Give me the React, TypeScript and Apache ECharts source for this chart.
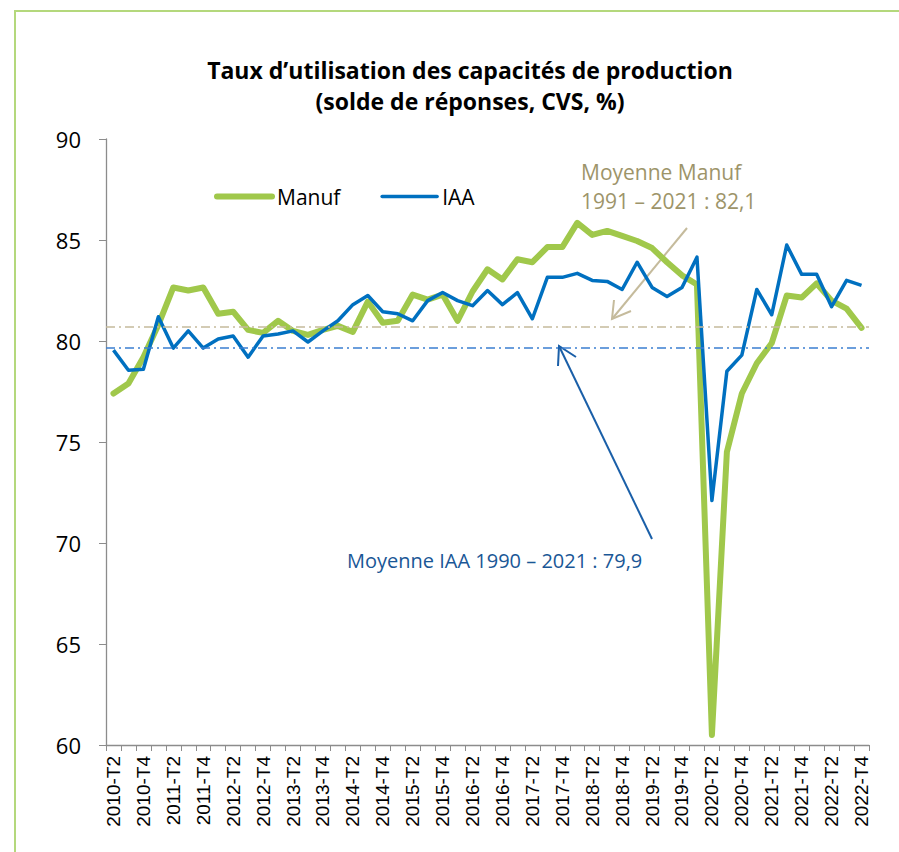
import React, { useEffect, useRef } from "react";
import * as echarts from "echarts";

const categories = [
  "2010-T2","2010-T3","2010-T4",
  "2011-T1","2011-T2","2011-T3","2011-T4",
  "2012-T1","2012-T2","2012-T3","2012-T4",
  "2013-T1","2013-T2","2013-T3","2013-T4",
  "2014-T1","2014-T2","2014-T3","2014-T4",
  "2015-T1","2015-T2","2015-T3","2015-T4",
  "2016-T1","2016-T2","2016-T3","2016-T4",
  "2017-T1","2017-T2","2017-T3","2017-T4",
  "2018-T1","2018-T2","2018-T3","2018-T4",
  "2019-T1","2019-T2","2019-T3","2019-T4",
  "2020-T1","2020-T2","2020-T3","2020-T4",
  "2021-T1","2021-T2","2021-T3","2021-T4",
  "2022-T1","2022-T2","2022-T3","2022-T4",
];

const manuf = [
  77.4, 77.9, 79.2,
  80.8, 82.65, 82.5, 82.65,
  81.35, 81.45, 80.55, 80.4,
  81.0, 80.5, 80.3, 80.55,
  80.75, 80.45, 81.95, 80.9,
  81.0, 82.3, 82.05, 82.3,
  81.0, 82.45, 83.55, 83.05,
  84.05, 83.9, 84.65, 84.65,
  85.85, 85.25, 85.45, 85.2,
  84.95, 84.6, 83.9, 83.25,
  82.8, 60.5, 74.5, 77.4,
  78.9, 79.9, 82.25, 82.15,
  82.85, 82.0, 81.6, 80.65,
];

const iaa = [
  79.55, 78.55, 78.6,
  81.2, 79.65, 80.5, 79.65,
  80.1, 80.25, 79.2, 80.25,
  80.35, 80.5, 79.95, 80.5,
  81.0, 81.8, 82.25, 81.45,
  81.35, 81.0, 82.0, 82.4,
  82.0, 81.75, 82.5, 81.8,
  82.4, 81.1, 83.15, 83.15,
  83.35, 83.0, 82.95, 82.55,
  83.9, 82.65, 82.2, 82.65,
  84.15, 72.1, 78.5, 79.3,
  82.55, 81.3, 84.75, 83.3,
  83.3, 81.7, 83.0, 82.75,
];

// average reference lines (as drawn in the chart)
const avgManufLine = 80.7;
const avgIaaLine = 79.65;

const yTicks = { min: 60, max: 90, interval: 5 };

const GREEN = "#a0c84b";
const BLUE = "#0070c0";
const TAN = "#c5bb9c";
const FONT = "'Open Sans', 'Noto Sans', sans-serif";

export default function App() {
  const ref = useRef<HTMLDivElement>(null);

  useEffect(() => {
    if (!ref.current) return;
    const chart = echarts.init(ref.current, null, { renderer: "svg" });
    chart.setOption({
      animation: false,
      backgroundColor: "#ffffff",
      title: {
        text: "Taux d\u2019utilisation des capacités de production\n(solde de réponses, CVS, %)",
        left: 470,
        top: 54,
        padding: 0,
        textAlign: "center",
        textStyle: {
          fontFamily: FONT,
          fontWeight: "bold",
          fontSize: 23,
          lineHeight: 31,
          color: "#000",
        },
      },
      legend: {
        left: 214,
        top: 186,
        padding: 0,
        itemWidth: 55,
        itemHeight: 14,
        itemGap: 40,
        itemStyle: { opacity: 0 },
        data: [
          { name: "Manuf", lineStyle: { width: 6, cap: "round", color: GREEN } },
          { name: "IAA", lineStyle: { width: 3.5, cap: "round", color: BLUE } },
        ],
        textStyle: { fontFamily: FONT, fontSize: 21, color: "#000" },
      },
      grid: { left: 106, right: 30, top: 139, bottom: 107, containLabel: false },
      xAxis: {
        type: "category",
        data: categories,
        boundaryGap: true,
        axisLine: { show: true, lineStyle: { color: "#8c8c8c", width: 1.3 } },
        axisTick: { show: true, interval: 0, length: 6, lineStyle: { color: "#8c8c8c" } },
        axisLabel: {
          interval: 1,
          rotate: 90,
          margin: 11,
          fontFamily: "'Liberation Sans', Arial, sans-serif",
          fontSize: 19,
          color: "#000",
        },
        splitLine: { show: false },
      },
      yAxis: {
        type: "value",
        min: yTicks.min,
        max: yTicks.max,
        interval: yTicks.interval,
        axisLine: { show: true, lineStyle: { color: "#8c8c8c", width: 1.3 } },
        axisTick: { show: true, length: 7, lineStyle: { color: "#8c8c8c" } },
        axisLabel: { margin: 25, fontFamily: FONT, fontSize: 22, color: "#000" },
        splitLine: { show: false },
      },
      series: [
        {
          name: "Manuf",
          type: "line",
          data: manuf,
          symbol: "none",
          lineStyle: { color: GREEN, width: 6, cap: "round", join: "round" },
          itemStyle: { color: GREEN },
          z: 2,
          markLine: {
            silent: true,
            symbol: "none",
            label: { show: false },
            lineStyle: { color: TAN, width: 1.5, type: [9, 4, 2, 4] },
            data: [{ yAxis: avgManufLine }],
          },
        },
        {
          name: "IAA",
          type: "line",
          data: iaa,
          symbol: "none",
          lineStyle: { color: BLUE, width: 3.5, join: "round" },
          itemStyle: { color: BLUE },
          z: 3,
          markLine: {
            silent: true,
            symbol: "none",
            label: { show: false },
            lineStyle: { color: "#3b7fd1", width: 1.5, type: [9, 4, 2, 4] },
            data: [{ yAxis: avgIaaLine }],
          },
        },
      ],
      graphic: [
        // frame
        { type: "line", shape: { x1: 14, y1: 11, x2: 899, y2: 11 }, style: { stroke: "#b4d87c", lineWidth: 2 }, silent: true },
        { type: "line", shape: { x1: 15, y1: 11, x2: 15, y2: 852 }, style: { stroke: "#b4d87c", lineWidth: 2 }, silent: true },
        // annotations
        {
          type: "text",
          x: 581,
          y: 172,
          style: { text: "Moyenne Manuf", fill: "#9d9469", font: `21px ${FONT}`, textVerticalAlign: "middle" },
        },
        {
          type: "text",
          x: 581,
          y: 201,
          style: { text: "1991 \u2013 2021 : 82,1", fill: "#9d9469", font: `21px ${FONT}`, textVerticalAlign: "middle" },
        },
        {
          type: "text",
          x: 347,
          y: 560,
          style: { text: "Moyenne IAA 1990 \u2013 2021 : 79,9", fill: "#1a5796", font: `20px ${FONT}`, textVerticalAlign: "middle" },
        },
        // arrows
        { type: "line", shape: { x1: 687, y1: 228, x2: 612, y2: 319 }, style: { stroke: TAN, lineWidth: 2 }, silent: true },
        { type: "polyline", shape: { points: [[614, 300], [612, 319], [631, 311]] }, style: { stroke: TAN, lineWidth: 2, fill: null }, silent: true },
        { type: "line", shape: { x1: 652, y1: 539, x2: 559, y2: 346 }, style: { stroke: "#1a5fa8", lineWidth: 2 }, silent: true },
        { type: "polyline", shape: { points: [[558, 366], [559, 346], [576, 357]] }, style: { stroke: "#1a5fa8", lineWidth: 2, fill: null }, silent: true },
      ],
    });
    return () => chart.dispose();
  }, []);

  return (
    <div
      ref={ref}
      style={{ position: "absolute", left: 0, top: 0, width: 899, height: 852 }}
    />
  );
}
